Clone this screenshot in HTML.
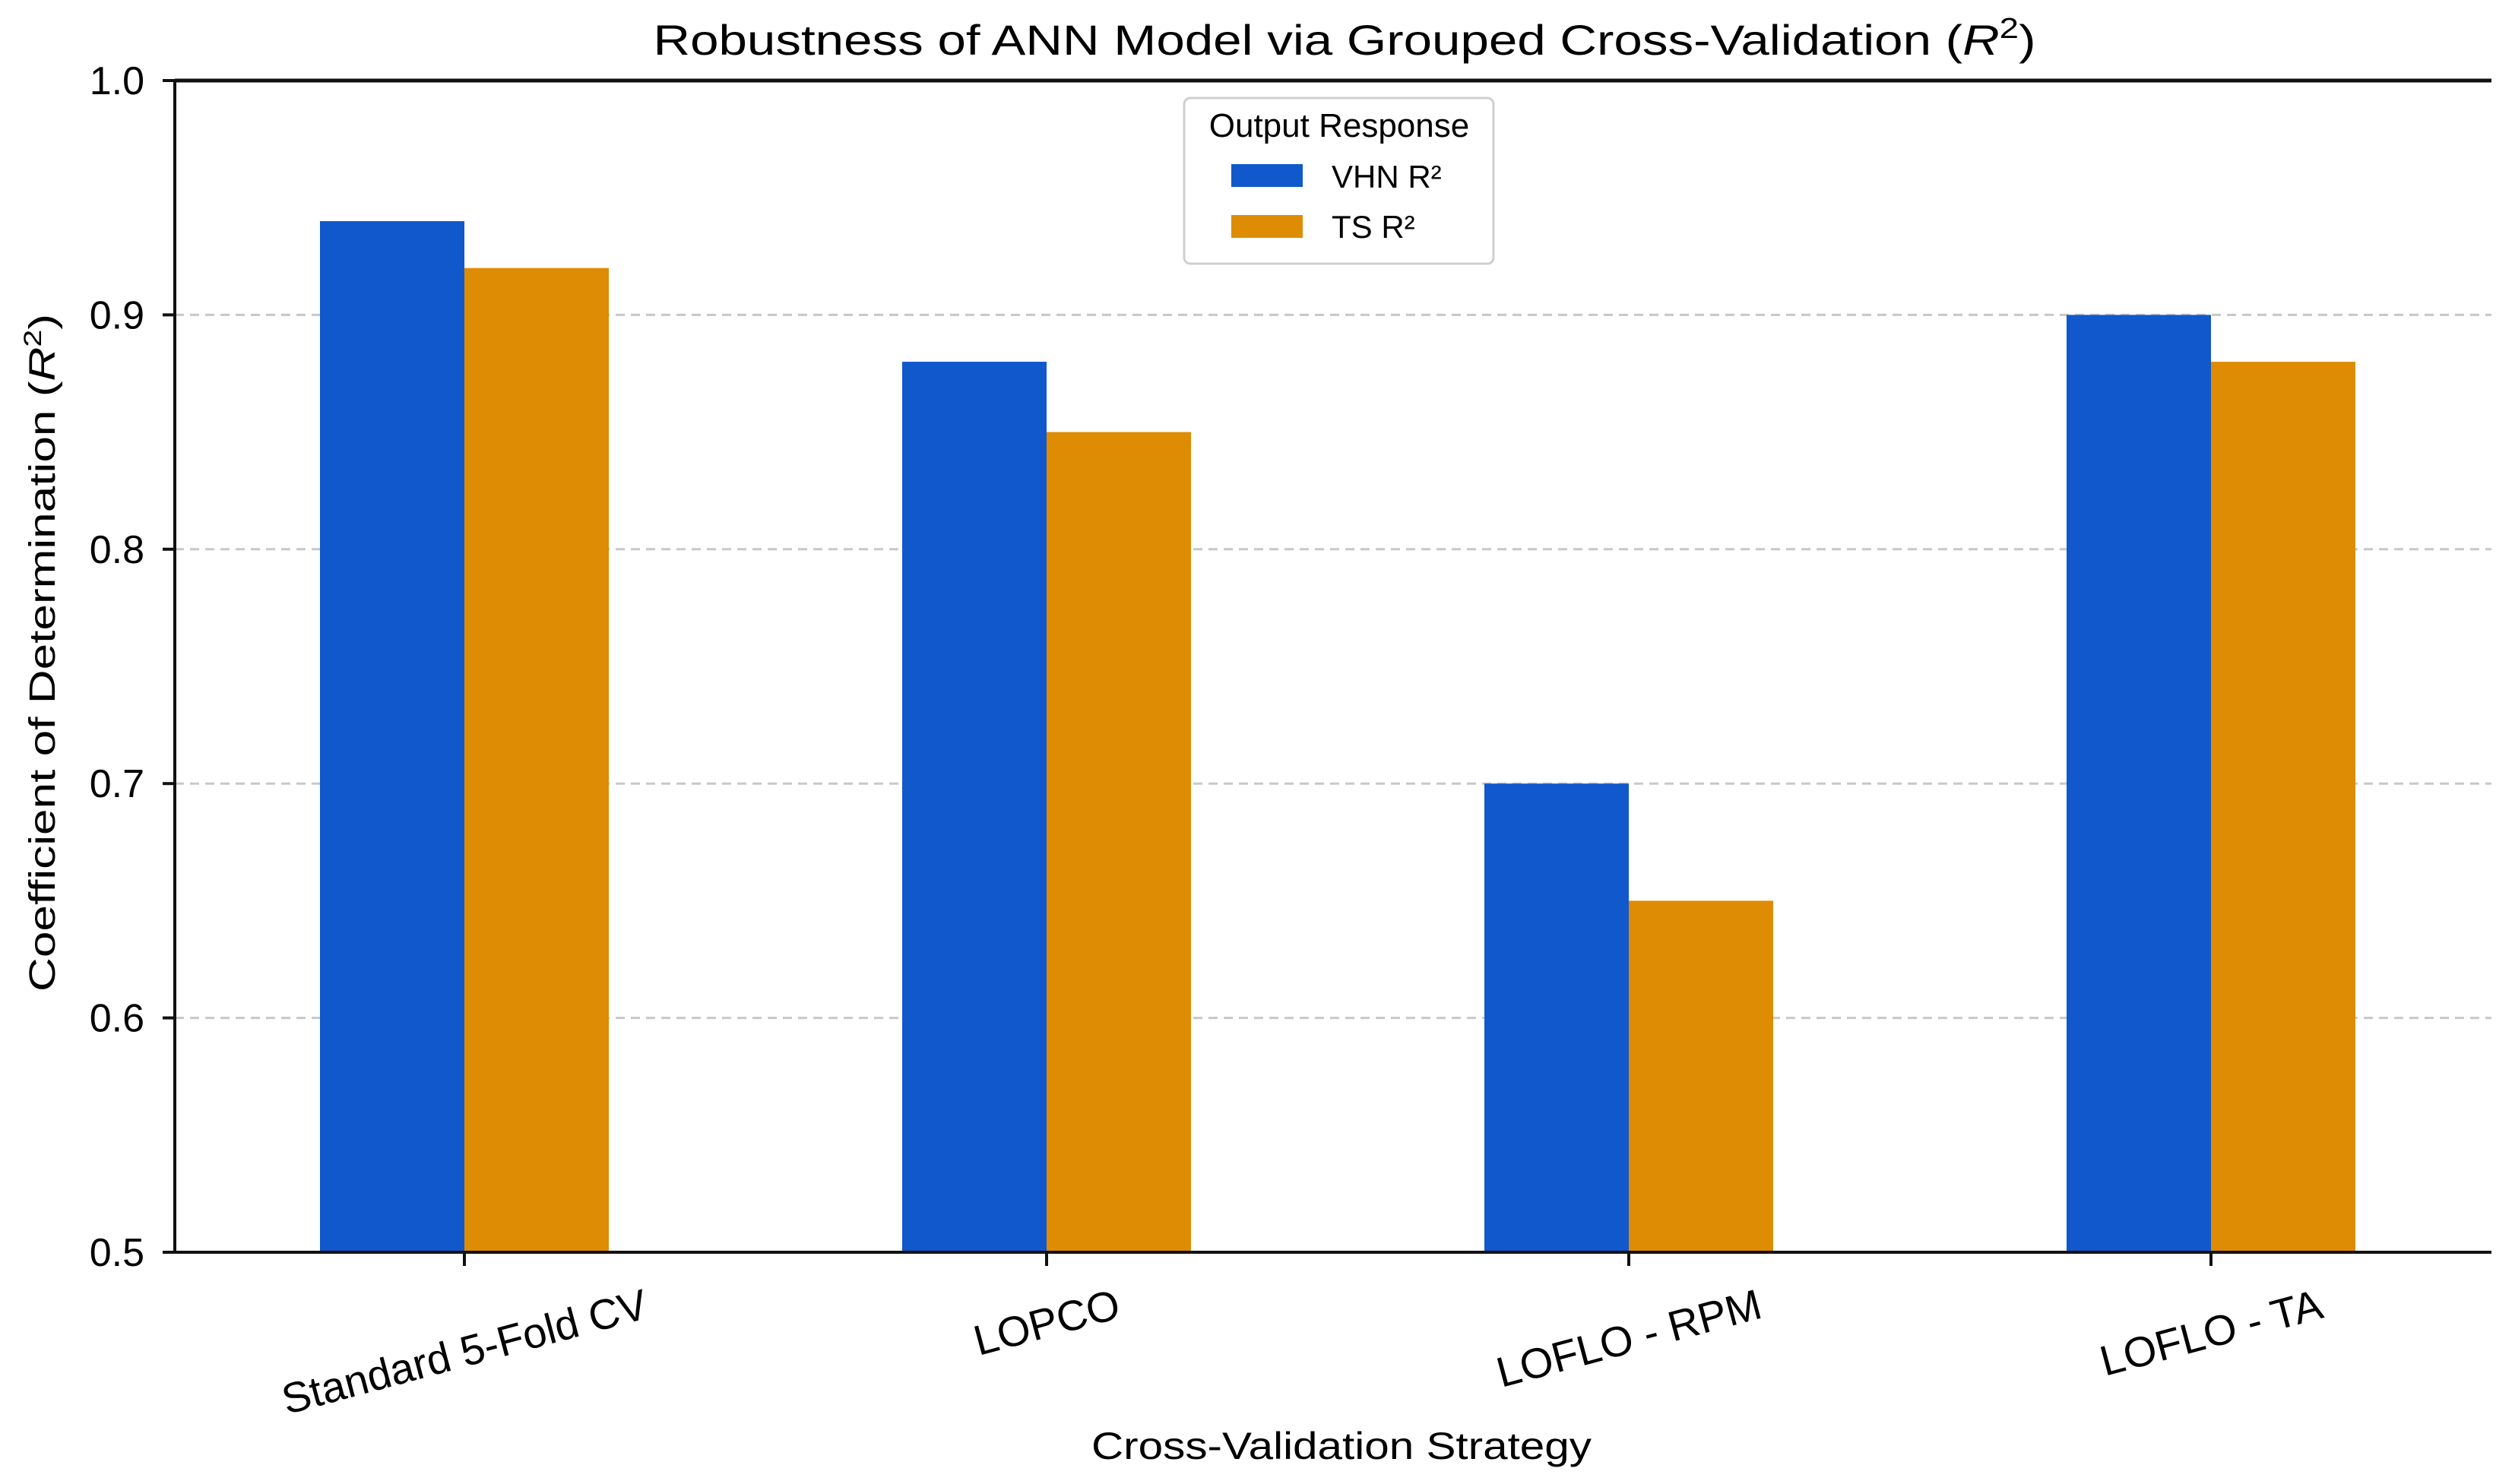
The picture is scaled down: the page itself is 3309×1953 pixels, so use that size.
<!DOCTYPE html>
<html><head><meta charset="utf-8"><style>
html,body{margin:0;padding:0;background:#fff;}
svg{display:block;font-family:"Liberation Sans",sans-serif;}
</style></head><body>
<svg id="chart" width="3309" height="1953" viewBox="0 0 3309 1953" xmlns="http://www.w3.org/2000/svg">
<rect x="0" y="0" width="3309" height="1953" fill="#fff"/>
<g id="grid"></g>
<g id="bars"></g>
<g id="axes"></g>
<text x="1769" y="72" font-size="56" text-anchor="middle" textLength="1819" lengthAdjust="spacingAndGlyphs">Robustness of ANN Model via Grouped Cross-Validation (<tspan font-style="italic">R</tspan><tspan font-size="38" dy="-22">2</tspan><tspan dy="22">)</tspan></text>
<text transform="translate(72,859) rotate(-90)" font-size="48" text-anchor="middle" textLength="892" lengthAdjust="spacingAndGlyphs">Coefficient of Determination (<tspan font-style="italic">R</tspan><tspan font-size="32" dy="-18">2</tspan><tspan dy="18">)</tspan></text>
<text x="1765" y="1920" font-size="50" text-anchor="middle" textLength="658" lengthAdjust="spacingAndGlyphs">Cross-Validation Strategy</text>
<g>
<rect x="1558" y="129" width="407" height="218" rx="8" fill="#fff" stroke="#cfcfcf" stroke-width="3"/>
<text x="1762" y="180" font-size="44" text-anchor="middle">Output Response</text>
<rect x="1620" y="216" width="94" height="30" fill="#1158cc"/>
<text x="1752" y="247" font-size="42">VHN R²</text>
<rect x="1620" y="283" width="94" height="30" fill="#dd8c04"/>
<text x="1752" y="313" font-size="42">TS R²</text>
</g>
</svg>
<script>
const categories = ["Standard 5-Fold CV", "LOPCO", "LOFLO - RPM", "LOFLO - TA"];
const vhnValues = [0.94, 0.88, 0.70, 0.90];
const tsValues = [0.92, 0.85, 0.65, 0.88];
const yTicks = [0.5, 0.6, 0.7, 0.8, 0.9, 1.0];
const yTickLabels = ["0.5", "0.6", "0.7", "0.8", "0.9", "1.0"];

const NS = "http://www.w3.org/2000/svg";
const plotLeft = 230, plotRight = 3278, plotTop = 106, plotBottom = 1648;
const yMin = 0.5, yMax = 1.0;
const firstCenter = 611, groupStep = 766, barW = 190;
function yScale(v){ return plotBottom - (v - yMin) / (yMax - yMin) * (plotBottom - plotTop); }
function xCenter(i){ return firstCenter + i * groupStep; }
function mk(tag, attrs, parent){
  const e = document.createElementNS(NS, tag);
  for (const k in attrs) e.setAttribute(k, attrs[k]);
  parent.appendChild(e);
  return e;
}
const gridG = document.getElementById('grid');
const barsG = document.getElementById('bars');
const axesG = document.getElementById('axes');

yTicks.forEach((t, i) => {
  const y = yScale(t);
  if (t > yMin && t < yMax) {
    const g = mk('line', {x1: plotLeft, x2: plotRight, y1: y, y2: y, stroke: '#c8c8c8', 'stroke-width': 3, 'stroke-dasharray': '12 8'}, gridG);
    
    
  }
  const tk = mk('line', {x1: plotLeft - 16, x2: plotLeft, y1: y, y2: y, stroke: '#111', 'stroke-width': 4}, axesG);
  
  
  const lb = mk('text', {x: plotLeft - 40, y: y + 18, 'font-size': 52, 'text-anchor': 'end'}, axesG);
  lb.textContent = yTickLabels[i];
  
  
});

categories.forEach((c, i) => {
  const cx = xCenter(i);
  const b1 = mk('rect', {x: cx - barW, y: yScale(vhnValues[i]), width: barW, height: plotBottom - yScale(vhnValues[i]), fill: '#1158cc'}, barsG);
  
  
  const b2 = mk('rect', {x: cx, y: yScale(tsValues[i]), width: barW, height: plotBottom - yScale(tsValues[i]), fill: '#dd8c04'}, barsG);
  
  
  const tk = mk('line', {x1: cx, x2: cx, y1: plotBottom, y2: plotBottom + 18, stroke: '#111', 'stroke-width': 4}, axesG);
  
  
  const lb = mk('text', {'font-size': 56, 'text-anchor': 'middle'}, axesG);
  lb.textContent = c;
  
  
  let w = c.length * 30;
  try { const m = lb.getComputedTextLength(); if (m > 0) w = m; } catch (e) {}
  const th = 15 * Math.PI / 180;
  const bboxH = Math.sin(th) * w + Math.cos(th) * 46;
  const cy = 1692 + bboxH / 2;
  lb.setAttribute('transform', 'translate(' + cx + ',' + cy + ') rotate(-15)');
  lb.setAttribute('y', 20);
});

const ax = mk('path', {d: 'M' + plotLeft + ' ' + plotTop + ' L' + plotLeft + ' ' + plotBottom + ' L' + plotRight + ' ' + plotBottom, fill: 'none', stroke: '#111', 'stroke-width': 4}, axesG);


const tl = mk('line', {x1: plotLeft, x2: plotRight, y1: plotTop, y2: plotTop, stroke: '#111', 'stroke-width': 5}, axesG);


</script>
</body></html>
